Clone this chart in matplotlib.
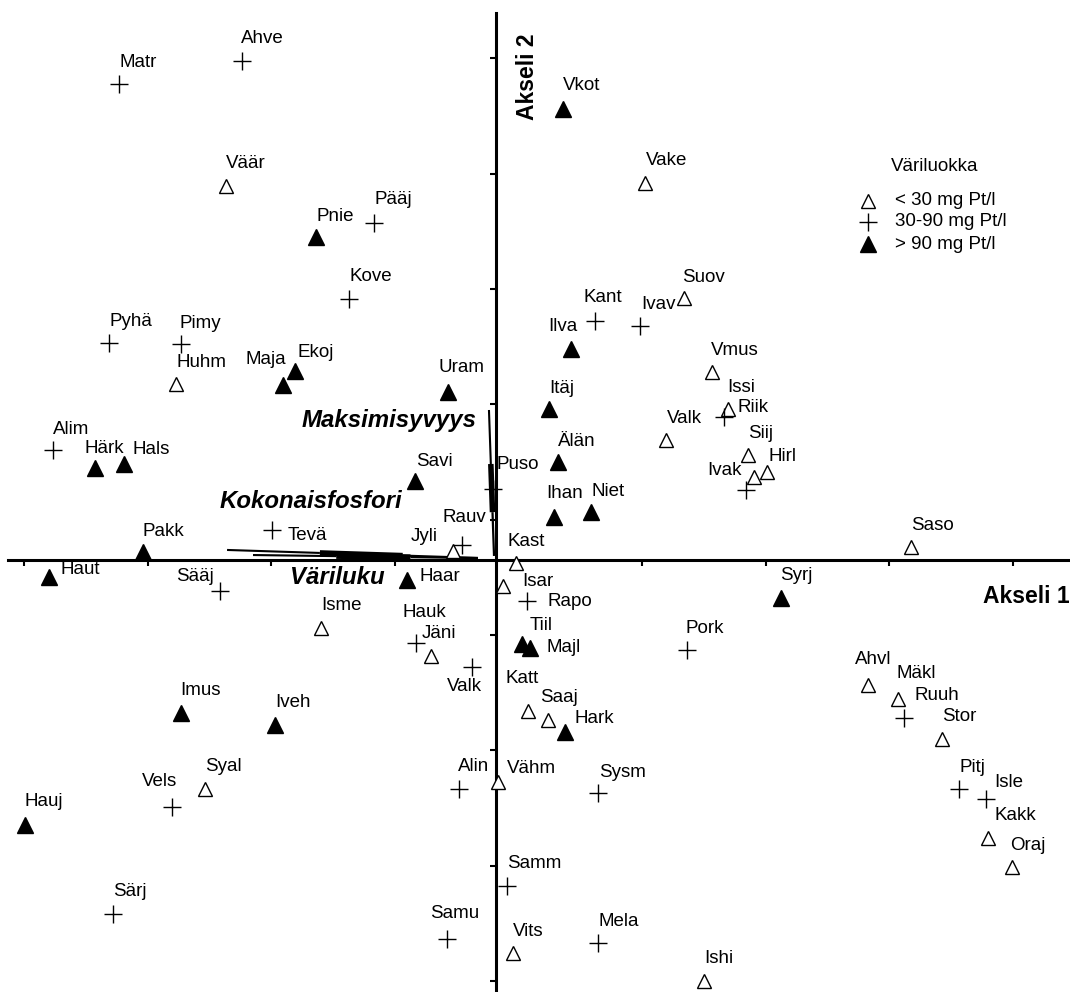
"""Ordination diagram of the lakes on axes 1 and 2, by water colour class,
with the environmental variables drawn as vectors from the origin."""
import matplotlib
matplotlib.use("Agg")
import matplotlib.pyplot as plt
from matplotlib.lines import Line2D

FONT = "Liberation Sans"

# site names (one unlabeled site near Ivak)
site_names = [
    "Matr", "Ahve", "Väär", "Pnie", "Pääj", "Kove", "Pyhä", "Pimy", "Huhm", "Maja",
    "Ekoj", "Uram", "Alim", "Härk", "Hals", "Savi", "Pakk", "Tevä", "Jyli", "Rauv",
    "Haut", "Sääj", "Haar", "Isme", "Hauk", "Jäni", "Valk", "Imus", "Iveh", "Syal",
    "Vels", "Hauj", "Särj", "Alin", "Samu", "Vkot", "Vake", "Suov", "Kant", "Ivav",
    "Ilva", "Vmus", "Itäj", "Issi", "Riik", "Valk", "Älän", "Puso", "Siij", "Hirl",
    "Ivak", "", "Ihan", "Niet", "Saso", "Kast", "Isar", "Rapo", "Tiil", "Majl",
    "Pork", "Syrj", "Katt", "Saaj", "Hark", "Vähm", "Sysm", "Samm", "Vits", "Mela",
    "Ishi", "Ahvl", "Mäkl", "Ruuh", "Stor", "Pitj", "Isle", "Kakk", "Oraj",
]

# colour class: 1 = < 30, 2 = 30-90, 3 = > 90 mg Pt/l
site_class = [
    2, 2, 1, 3, 2, 2, 2, 2, 1, 3,
    3, 3, 2, 3, 3, 3, 3, 2, 1, 2,
    3, 2, 3, 1, 2, 1, 2, 3, 3, 1,
    2, 3, 2, 2, 2, 3, 1, 1, 2, 2,
    3, 1, 3, 1, 2, 1, 3, 2, 1, 1,
    1, 2, 3, 3, 1, 1, 1, 2, 3, 3,
    2, 3, 1, 1, 3, 1, 2, 2, 1, 2,
    1, 1, 1, 2, 1, 2, 2, 1, 1,
]

axis1 = [
    -3.050, -2.055, -2.184, -1.456, -0.987, -1.189, -3.131, -2.549, -2.589, -1.723,
    -1.626, -0.388, -3.584, -3.244, -3.010, -0.655, -2.856, -1.812, -0.348, -0.275,
    -3.617, -2.233, -0.720, -1.416, -0.647, -0.526, -0.194, -2.549, -1.788, -2.354,
    -2.621, -3.811, -3.099, -0.299, -0.396, 0.542, 1.206, 1.521, 0.801, 1.165,
    0.607, 1.748, 0.429, 1.877, 1.845, 1.375, 0.502, -0.024, 2.039, 2.193,
    2.087, 2.023, 0.469, 0.769, 3.358, 0.162, 0.057, 0.251, 0.210, 0.275,
    1.545, 2.306, 0.259, 0.421, 0.558, 0.016, 0.825, 0.089, 0.138, 0.825,
    1.683, 3.010, 3.252, 3.301, 3.608, 3.746, 3.964, 3.981, 4.175,
]

axis2 = [
    4.128, 4.328, 3.244, 2.801, 2.923, 2.264, 1.882, 1.873, 1.526, 1.518,
    1.639, 1.457, 0.954, 0.798, 0.833, 0.685, 0.069, 0.260, 0.078, 0.130,
    -0.147, -0.269, -0.173, -0.590, -0.720, -0.833, -0.928, -1.327, -1.431, -1.986,
    -2.142, -2.298, -3.070, -1.986, -3.287, 3.912, 3.270, 2.272, 2.073, 2.029,
    1.830, 1.631, 1.310, 1.310, 1.240, 1.041, 0.850, 0.616, 0.911, 0.763,
    0.720, 0.607, 0.373, 0.416, 0.113, -0.026, -0.225, -0.356, -0.729, -0.763,
    -0.781, -0.330, -1.310, -1.388, -1.492, -1.925, -2.021, -2.827, -3.408, -3.322,
    -3.651, -1.084, -1.206, -1.370, -1.552, -1.986, -2.073, -2.411, -2.663,
]

# environmental vectors: start and end points on axes 1 and 2
env_names = ["Kokonaisfosfori", "Väriluku", "Maksimisyvyys"]
env_x0 = [-0.146, -0.146, -0.016]
env_y0 = [0.017, 0.017, 0.035]
env_x1 = [-2.176, -1.966, -0.057]
env_y1 = [0.087, 0.043, 1.301]

class_labels = ["< 30 mg Pt/l", "30-90 mg Pt/l", "> 90 mg Pt/l"]

# label offsets from the marker, in pixels (right, up)
LABEL_OFFSETS = [
    (0, 22), (-1, 22), (0, 22), (0, 21), (0, 23), (0, 22), (0, 22), (-1, 21), (0, 22), (-38, 25),
    (2, 19), (-10, 25), (0, 20), (-11, 19), (9, 14), (1, 20), (-1, 21), (16, -5), (-42, 14), (-20, 28),
    (12, 7), (-44, 15), (12, 3), (0, 23), (-14, 31), (-9, 23), (-25, -20), (-1, 22), (0, 22), (0, 22),
    (-30, 25), (0, 23), (0, 22), (-1, 22), (-17, 25), (0, 23), (1, 22), (-2, 21), (-12, 23), (1, 22),
    (-23, 22), (-1, 21), (0, 20), (-1, 21), (13, 10), (1, 21), (0, 20), (3, 24), (0, 21), (1, 16),
    (-47, 6), (0, 0), (-8, 23), (0, 21), (0, 21), (-9, 21), (19, 4), (20, 0), (8, 19), (17, 0),
    (-1, 22), (-1, 23), (-23, 33), (-8, 23), (10, 14), (9, 13), (1, 21), (0, 22), (0, 21), (1, 21),
    (0, 22), (-13, 25), (-1, 26), (10, 22), (0, 22), (0, 21), (8, 16), (6, 22), (-2, 22),
]

MARKERS = {
    1: dict(marker="^", ms=10, mfc="white", mec="black", mew=1.0),
    2: dict(marker="+", ms=12.5, mec="black", mew=1.0),
    3: dict(marker="^", ms=11, mfc="black", mec="black", mew=1.0),
}

ENV_LABEL_POS = [(-2.233, 0.503), (-1.667, -0.156), (-1.570, 1.214)]
LABEL_SIZE = 13.5


def draw_vector(ax, x0, y0, x1, y1):
    # tapered stroke: thin near the origin, heavy in the middle, thin tip
    for a, b, w in [(0.0, 0.3, 1.6), (0.3, 0.63, 4.0), (0.63, 1.0, 1.5)]:
        ax.plot([x0 + a * (x1 - x0), x0 + b * (x1 - x0)],
                [y0 + a * (y1 - y0), y0 + b * (y1 - y0)],
                color="black", lw=w, solid_capstyle="butt", zorder=2)


def main():
    fig = plt.figure(figsize=(10.70, 9.92), dpi=100)
    ax = fig.add_axes([0, 0, 1, 1])
    ax.set_xlim(-4.013, 4.644)
    ax.set_ylim(-3.747, 4.857)

    ax.spines["top"].set_visible(False)
    ax.spines["right"].set_visible(False)
    ax.spines["left"].set_position(("data", 0))
    ax.spines["bottom"].set_position(("data", 0))
    ax.spines["left"].set_bounds(-3.747, 4.744)
    ax.spines["bottom"].set_bounds(-3.948, 4.644)
    for s in ("left", "bottom"):
        ax.spines[s].set_linewidth(2.2)

    ax.set_xticks([-3.819 + k for k in range(9)])
    ax.set_yticks([4.350 - k for k in range(9)])
    ax.tick_params(direction="out", length=4.5, width=1.5,
                   labelbottom=False, labelleft=False)

    for i in range(len(env_names)):
        draw_vector(ax, env_x0[i], env_y0[i], env_x1[i], env_y1[i])
        ax.text(*ENV_LABEL_POS[i], env_names[i], ha="left", va="center",
                fontsize=17.3, fontweight="bold", fontstyle="italic",
                family=FONT)

    for c, style in MARKERS.items():
        xs = [x for x, k in zip(axis1, site_class) if k == c]
        ys = [y for y, k in zip(axis2, site_class) if k == c]
        ax.plot(xs, ys, ls="none", zorder=3, **style)

    for name, x, y, (dx, dy) in zip(site_names, axis1, axis2, LABEL_OFFSETS):
        if not name:
            continue
        ax.annotate(name, (x, y), xytext=(dx, dy), textcoords="offset pixels",
                    ha="left", va="center", fontsize=LABEL_SIZE, family=FONT,
                    zorder=4)

    ax.text(1.0, -0.321, "Akseli 1", transform=ax.get_yaxis_transform(),
            ha="right", va="center", fontsize=16.5, fontweight="bold",
            family=FONT)
    ax.text(0.251, 4.189, "Akseli 2", ha="center", va="center", rotation=90,
            fontsize=16.5, fontweight="bold", family=FONT)

    # colour class key
    ax.text(0.8327, 0.8317, "Väriluokka", transform=ax.transAxes,
            ha="left", va="center", fontsize=LABEL_SIZE, family=FONT)
    for c, (lab, yy) in enumerate(zip(class_labels, [0.7977, 0.7765, 0.7540]), 1):
        ax.add_line(Line2D([0.8112], [yy], transform=ax.transAxes, ls="none",
                           **MARKERS[c]))
        ax.text(0.8364, yy, lab, transform=ax.transAxes, ha="left",
                va="center", fontsize=LABEL_SIZE, family=FONT)

    fig.savefig("out.png", dpi=100, facecolor="white")
    plt.close(fig)


if __name__ == "__main__":
    main()
